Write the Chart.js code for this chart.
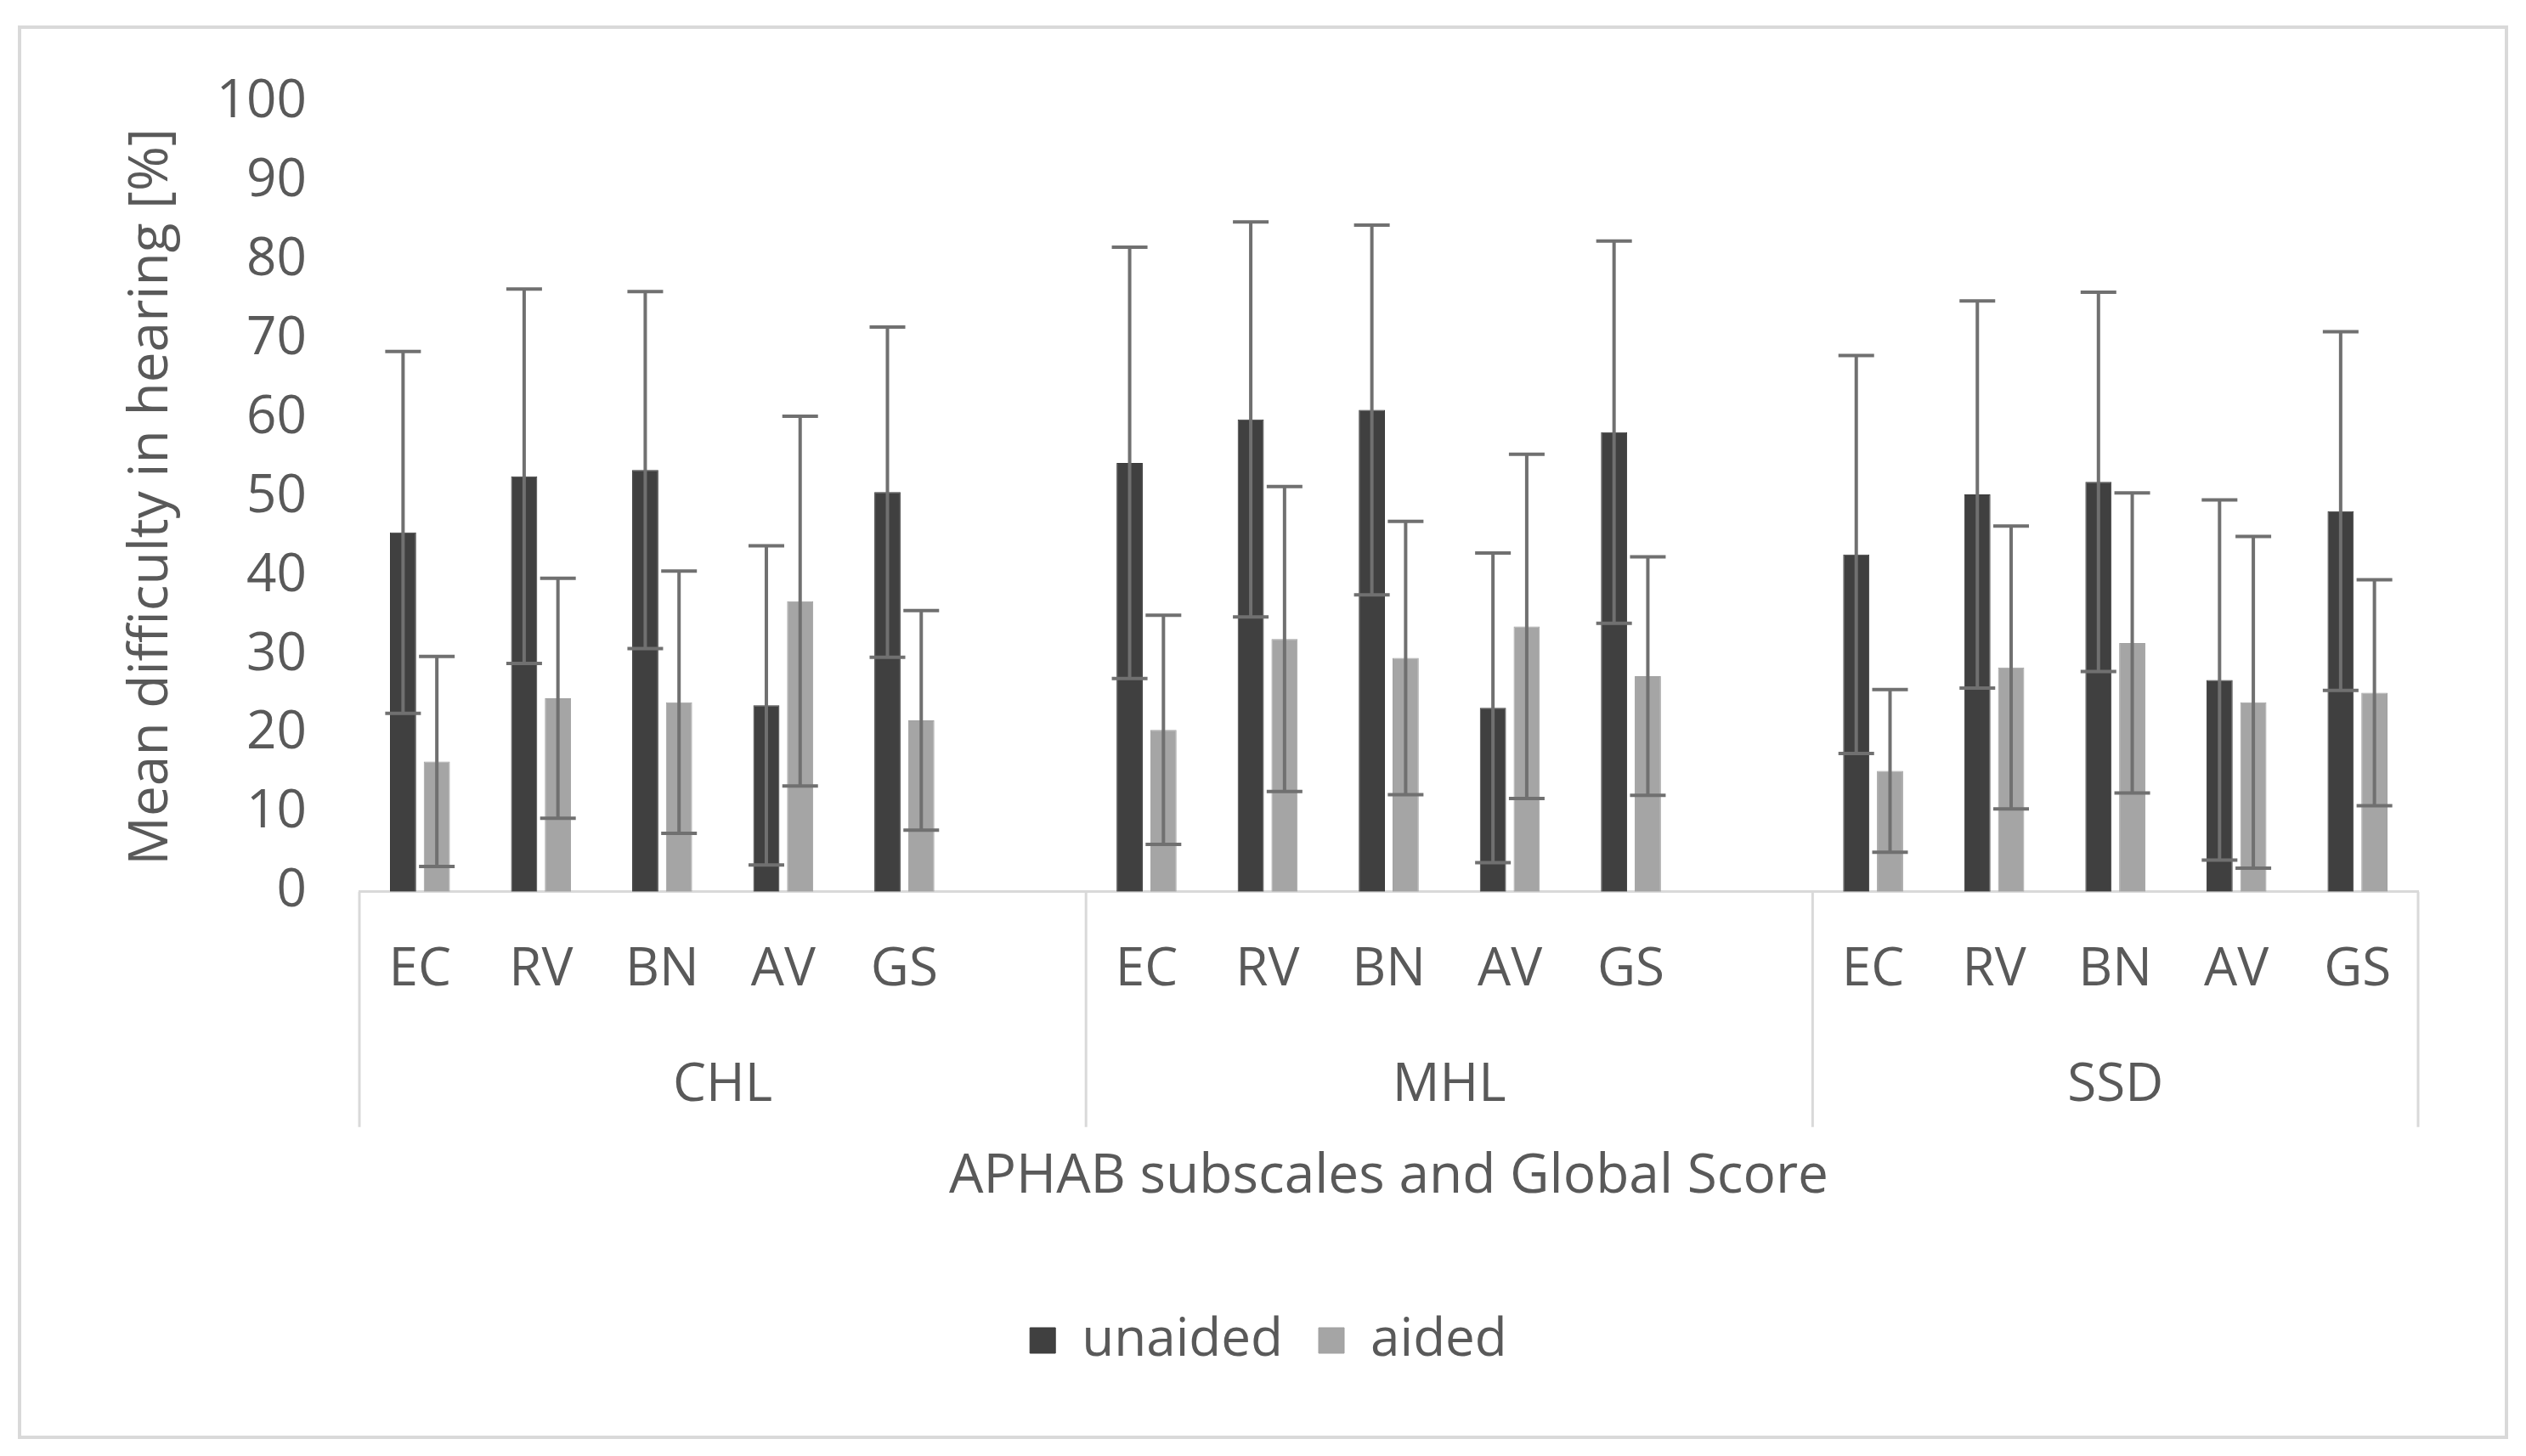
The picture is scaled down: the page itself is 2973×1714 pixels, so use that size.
<!DOCTYPE html>
<html>
<head>
<meta charset="utf-8">
<script src="https://cdn.jsdelivr.net/npm/chart.js@4.4.1/dist/chart.umd.min.js"></script>
<style>
  html, body { margin: 0; padding: 0; background: #fff; }
  #wrap { width: 2973px; height: 1714px; position: relative; }
</style>
</head>
<body>
<div id="wrap"><canvas id="aphabChart"></canvas></div>
<script>
// カテゴリ（空欄はグループ間の隙間）
const categories = ['EC', 'RV', 'BN', 'AV', 'GS', '', 'EC', 'RV', 'BN', 'AV', 'GS', '', 'EC', 'RV', 'BN', 'AV', 'GS'];
const groupLabels = ['CHL', 'MHL', 'SSD'];
const groupSizes = [6, 6, 5];

// 平均値と標準偏差
const unaidedMean = [45.5, 52.6, 53.4, 23.6, 50.6, null, 54.3, 59.8, 61.0, 23.3, 58.2, null, 42.7, 50.3, 51.9, 26.8, 48.2];
const unaidedSD   = [22.9, 23.7, 22.6, 20.2, 20.9, null, 27.3, 25.0, 23.4, 19.6, 24.2, null, 25.2, 24.5, 24.0, 22.8, 22.7];
const aidedMean   = [16.5, 24.5, 24.0, 36.8, 21.7, null, 20.5, 32.0, 29.6, 33.6, 27.3, null, 15.3, 28.4, 31.5, 24.0, 25.2];
const aidedSD     = [13.3, 15.2, 16.6, 23.4, 13.9, null, 14.5, 19.3, 17.3, 21.8, 15.1, null, 10.3, 17.9, 19.0, 21.0, 14.3];

const yTicks = [0, 10, 20, 30, 40, 50, 60, 70, 80, 90, 100];

const textColor = '#595959';
const lineColor = '#d9d9d9';
const fontFamily = '"Open Sans", "Noto Sans", sans-serif';

// 外枠
const framePlugin = {
    id: 'frame',
    beforeDraw(chart) {
        const ctx = chart.ctx;
        ctx.save();
        ctx.fillStyle = '#fff';
        ctx.fillRect(0, 0, chart.width, chart.height);
        ctx.strokeStyle = lineColor;
        ctx.lineWidth = 4;
        ctx.strokeRect(23, 32, chart.width - 46, chart.height - 54);
        ctx.restore();
    }
};

// エラーバー（±SD）
const errorBarPlugin = {
    id: 'errorBars',
    afterDatasetsDraw(chart) {
        const ctx = chart.ctx;
        const y = chart.scales.y;
        const sds = [unaidedSD, aidedSD];
        ctx.save();
        ctx.strokeStyle = '#707070';
        ctx.lineWidth = 4;
        chart.data.datasets.forEach((ds, i) => {
            const meta = chart.getDatasetMeta(i);
            meta.data.forEach((bar, j) => {
                const m = ds.data[j];
                const sd = sds[i][j];
                if (m === null || sd === null) return;
                const top = y.getPixelForValue(m + sd);
                const bot = y.getPixelForValue(m - sd);
                const half = 21;
                ctx.beginPath();
                ctx.moveTo(bar.x, top);
                ctx.lineTo(bar.x, bot);
                ctx.moveTo(bar.x - half, top);
                ctx.lineTo(bar.x + half, top);
                ctx.moveTo(bar.x - half, bot);
                ctx.lineTo(bar.x + half, bot);
                ctx.stroke();
            });
        });
        ctx.restore();
    }
};

// 2段目のグループラベルと区切り線
const groupAxisPlugin = {
    id: 'groupAxis',
    afterDraw(chart) {
        const ctx = chart.ctx;
        const x = chart.scales.x;
        const area = chart.chartArea;
        const half = (x.getPixelForValue(1) - x.getPixelForValue(0)) / 2;
        ctx.save();
        ctx.strokeStyle = lineColor;
        ctx.lineWidth = 3;
        ctx.fillStyle = textColor;
        ctx.font = '62px ' + fontFamily;
        ctx.textAlign = 'center';
        ctx.textBaseline = 'middle';
        let start = 0;
        const edges = [x.getPixelForValue(0) - half];
        groupSizes.forEach((n, g) => {
            const left = x.getPixelForValue(start) - half;
            const right = x.getPixelForValue(start + n - 1) + half;
            edges.push(right);
            ctx.fillText(groupLabels[g], (left + right) / 2, area.bottom + 229);
            start += n;
        });
        edges.forEach(px => {
            ctx.beginPath();
            ctx.moveTo(px, area.bottom);
            ctx.lineTo(px, area.bottom + 277);
            ctx.stroke();
        });
        ctx.restore();
    }
};

const ctx = document.getElementById('aphabChart').getContext('2d');

const myChart = new Chart(ctx, {
    type: 'bar',
    data: {
        labels: categories,
        datasets: [{
            label: 'unaided',
            data: unaidedMean,
            backgroundColor: '#404040',
            borderColor: '#3a3a3a',
            borderWidth: 1,
        }, {
            label: 'aided',
            data: aidedMean,
            backgroundColor: '#a5a5a5',
            borderColor: '#a0a0a0',
            borderWidth: 1,
        }]
    },
    options: {
        responsive: true,
        maintainAspectRatio: false,
        devicePixelRatio: 1,
        animation: false,
        datasets: {
            bar: {
                categoryPercentage: 0.558,
                barPercentage: 0.775,
            }
        },
        layout: {
            padding: { left: 140, right: 127, top: 120, bottom: 95 }
        },
        plugins: {
            tooltip: { enabled: false },
            legend: {
                position: 'bottom',
                labels: {
                    color: textColor,
                    font: { family: fontFamily, size: 62 },
                    boxWidth: 30,
                    boxHeight: 30,
                    padding: 42,
                }
            }
        },
        scales: {
            x: {
                grid: { display: false, drawTicks: false },
                border: { display: true, color: lineColor, width: 3 },
                ticks: {
                    color: textColor,
                    font: { family: fontFamily, size: 62 },
                    padding: 55,
                    maxRotation: 0,
                    autoSkip: false,
                },
                title: {
                    display: true,
                    text: 'APHAB subscales and Global Score',
                    color: textColor,
                    font: { family: fontFamily, size: 64 },
                    padding: { top: 113, bottom: 81 },
                },
            },
            y: {
                min: 0,
                max: 100,
                afterBuildTicks(scale) {
                    scale.ticks = yTicks.map(v => ({ value: v }));
                },
                afterFit(scale) {
                    scale.width = 423 - 140;
                },
                grid: { display: false, drawTicks: false },
                border: { display: false },
                ticks: {
                    color: textColor,
                    font: { family: fontFamily, size: 62 },
                    padding: 62,
                },
                title: {
                    display: true,
                    text: 'Mean difficulty in hearing [%]',
                    color: textColor,
                    font: { family: fontFamily, size: 64 },
                    padding: 0,
                }
            }
        }
    },
    plugins: [framePlugin, errorBarPlugin, groupAxisPlugin]
});
</script>
</body>
</html>
